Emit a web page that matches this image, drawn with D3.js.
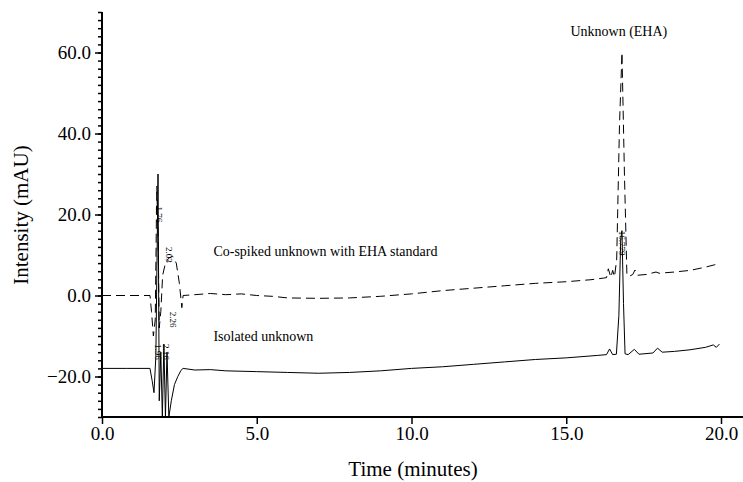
<!DOCTYPE html>
<html>
<head>
<meta charset="utf-8">
<script src="https://cdn.jsdelivr.net/npm/d3@7"></script>
<style>
  body { margin: 0; background: #fff; }
  svg { font-family: "Liberation Serif", "Times New Roman", serif; }
</style>
</head>
<body>
<svg id="chart" width="743" height="482"></svg>
<script>
// retention time (min) / intensity (mAU) pairs
const cospikedTime = [0, 0.8, 1.55, 1.6, 1.66, 1.72, 1.77, 1.81, 1.85, 1.9, 1.96, 2.05, 2.15, 2.28, 2.4, 2.5, 2.58, 2.62,
  3.0, 3.5, 4.0, 4.5, 5.0, 5.5, 6.0, 7.0, 8.0, 9.0, 10.0, 11.0, 12.0, 13.0, 14.0, 15.0, 15.8, 16.2, 16.3, 16.36,
  16.44, 16.5, 16.56, 16.63, 16.72, 16.8, 16.88, 16.96, 17.05, 17.15, 17.22, 17.3, 17.6, 17.9, 18.0, 18.5, 19.0,
  19.5, 19.8, 19.95];
const cospikedValue = [0, 0, 0, -4, -10, -6, 27, 15, -8, -4, 5, 8, 9.2, 9.7, 8, 3, -3, 0,
  0.2, 0.5, 0.2, 0.4, 0, -0.2, -0.6, -0.7, -0.6, -0.2, 0.4, 1.2, 1.8, 2.4, 3.0, 3.4, 3.9, 4.3, 4.4, 6.6,
  4.5, 6.2, 4.6, 9, 42, 60, 30, 5, 4.8, 5.2, 6.3, 5.0, 5.2, 5.8, 5.5, 5.8, 6.2,
  7.0, 7.6, 8.0];

const isolatedTime = [0, 0.8, 1.55, 1.62, 1.68, 1.74, 1.81, 1.85, 1.9, 1.95, 2.0, 2.05, 2.1, 2.16, 2.24, 2.34, 2.45, 2.55, 2.62,
  3.0, 3.5, 4.0, 5.0, 6.0, 7.0, 8.0, 9.0, 10.0, 11.0, 12.0, 13.0, 14.0, 15.0, 16.0, 16.3, 16.4, 16.5, 16.62,
  16.7, 16.76, 16.8, 16.85, 16.9, 17.0, 17.2, 17.35, 17.8, 17.95, 18.1, 18.5, 19.0, 19.5, 19.75, 19.85, 19.95];
const isolatedValue = [-18, -18, -18, -21, -24, -15, 30, -26, -14, -30, -12, -30, -14, -30, -26, -22, -20, -18.5, -18,
  -18.4, -18.3, -18.6, -18.8, -19, -19.2, -19, -18.6, -18, -17.6, -17, -16.4, -15.8, -15.4, -14.8, -14.6, -13.2, -14.6, -14.5,
  -5, 14, 16, -2, -14.4, -14.6, -13.3, -14.5, -14.2, -13, -14, -13.8, -13.4, -12.8, -12.2, -12.8, -12];

const xTicks = [0, 5, 10, 15, 20];
const yTicks = [-20, 0, 20, 40, 60];
const peakLabels = [
  { t: 1.76, v: 22, text: "1.76" },
  { t: 2.08, v: 12, text: "2.03" },
  { t: 2.2, v: -4, text: "2.26" },
  { t: 1.98, v: -12, text: "2.16" },
  { t: 1.7, v: -12, text: "1.96" },
  { t: 16.72, v: 16, text: "16.779" }
];
const notes = [
  { t: 3.6, v: 9.8, text: "Co-spiked unknown with EHA standard", anchor: "start" },
  { t: 3.6, v: -11.2, text: "Isolated unknown", anchor: "start" },
  { t: 16.7, v: 64, text: "Unknown (EHA)", anchor: "middle" }
];

const svg = d3.select('#chart');
const LEFT = 102, RIGHT = 743, TOP = 12, BOTTOM = 417;

const x = d3.scaleLinear().domain([0, 20]).range([LEFT, 721]);
const y = d3.scaleLinear().domain([-30, 70]).range([BOTTOM, TOP]);

svg.append('clipPath').attr('id', 'plot')
  .append('rect').attr('x', LEFT).attr('y', TOP).attr('width', RIGHT - LEFT).attr('height', BOTTOM - TOP);

const line = d3.line().x(d => x(d[0])).y(d => y(d[1]));

const traces = svg.append('g').attr('clip-path', 'url(#plot)');
traces.append('path')
  .datum(d3.zip(isolatedTime, isolatedValue))
  .attr('d', line)
  .style('fill', 'none').style('stroke', '#000').style('stroke-width', 1);
traces.append('path')
  .datum(d3.zip(cospikedTime, cospikedValue))
  .attr('d', line)
  .style('fill', 'none').style('stroke', '#000').style('stroke-width', 1)
  .style('stroke-dasharray', '9,5');

// peak retention labels, rotated like the instrument software prints them
svg.append('g').selectAll('text').data(peakLabels).join('text')
  .attr('transform', d => `translate(${x(d.t)},${y(d.v)}) rotate(90)`)
  .style('font-size', '9px')
  .text(d => d.text);

// y axis: labelled ticks every 20, small ones every 2
const yAxis = svg.append('g').attr('transform', `translate(${LEFT},0)`);
yAxis.call(d3.axisLeft(y).tickValues(d3.range(-30, 71, 2)).tickSize(4).tickFormat(''));
yAxis.call(g => g.selectAll('.tick line').style('stroke-width', 1.5));
const yMajor = svg.append('g').attr('transform', `translate(${LEFT},0)`)
  .call(d3.axisLeft(y).tickValues(yTicks).tickSize(7).tickPadding(4).tickFormat(d3.format('.1f')));
yMajor.select('.domain').remove();
yMajor.selectAll('.tick line').style('stroke-width', 1.5);
yMajor.selectAll('text').style('font-size', '19px').style('font-family', 'Liberation Serif');
yAxis.select('.domain').attr('d', `M0,${TOP}V${BOTTOM}`).style('stroke-width', 2);

const xAxis = svg.append('g').attr('transform', `translate(0,${BOTTOM})`)
  .call(d3.axisBottom(x).tickValues(xTicks).tickSize(7).tickPadding(3).tickFormat(d3.format('.1f')));
xAxis.select('.domain').attr('d', `M${LEFT},0H${RIGHT}`).style('stroke-width', 2);
xAxis.selectAll('.tick line').style('stroke-width', 1.5);
xAxis.selectAll('text').style('font-size', '19px').style('font-family', 'Liberation Serif');

svg.append('text')
  .attr('x', 413).attr('y', 476)
  .attr('text-anchor', 'middle').style('font-size', '21px')
  .text('Time (minutes)');
svg.append('text')
  .attr('transform', 'translate(28,215) rotate(-90)')
  .attr('text-anchor', 'middle').style('font-size', '21px')
  .text('Intensity (mAU)');

svg.append('g').selectAll('text').data(notes).join('text')
  .attr('x', d => x(d.t)).attr('y', d => y(d.v))
  .attr('text-anchor', d => d.anchor)
  .style('font-size', '14px')
  .text(d => d.text);
</script>
</body>
</html>
